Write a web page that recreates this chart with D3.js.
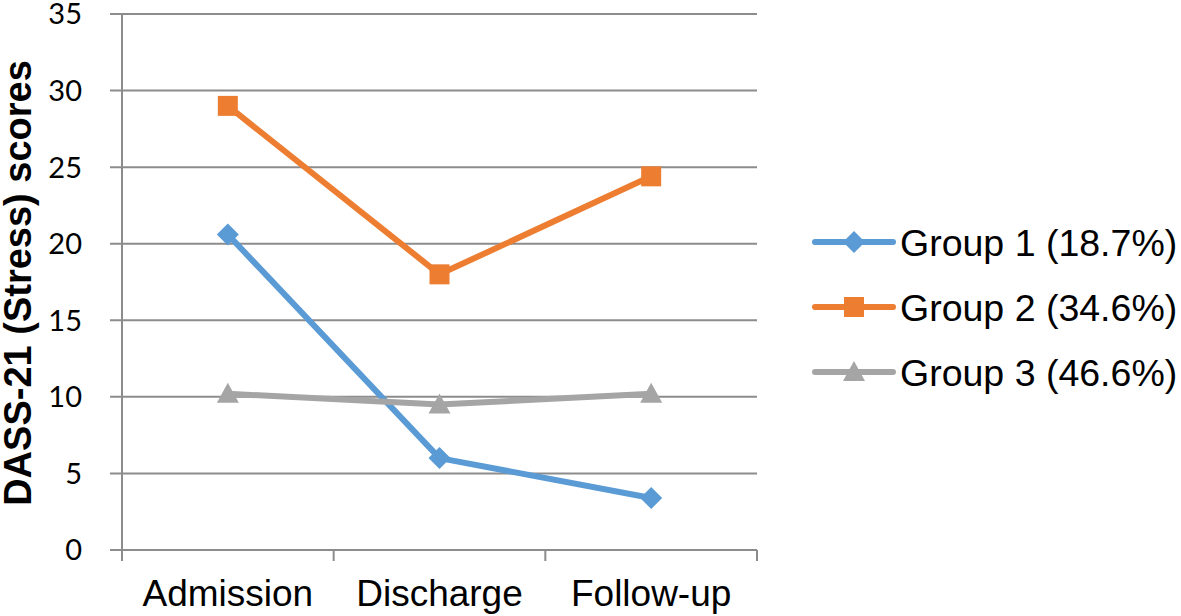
<!DOCTYPE html>
<html>
<head>
<meta charset="utf-8">
<script src="https://cdn.jsdelivr.net/npm/d3@7"></script>
<style>
  html, body { margin: 0; padding: 0; background: #fff; }
  svg { display: block; }
</style>
</head>
<body>
<svg id="chart"></svg>
<script>
// data
const categories = ['Admission', 'Discharge', 'Follow-up'];
const seriesNames = ['Group 1 (18.7%)', 'Group 2 (34.6%)', 'Group 3 (46.6%)'];
const group1 = [20.6, 6.0, 3.4];
const group2 = [29.0, 18.0, 24.4];
const group3 = [10.2, 9.5, 10.2];
const yTicks = [0, 5, 10, 15, 20, 25, 30, 35];

const width = 1181;
const height = 616;
const plotLeft = 122, plotRight = 757, plotTop = 14, plotBottom = 550;

const series = [
  { name: seriesNames[0], values: group1, color: '#5b9bd5', shape: 'diamond' },
  { name: seriesNames[1], values: group2, color: '#ed7d31', shape: 'square' },
  { name: seriesNames[2], values: group3, color: '#a5a5a5', shape: 'triangle' }
];

const svg = d3.select('#chart')
  .attr('width', width)
  .attr('height', height)
  .attr('viewBox', `0 0 ${width} ${height}`);

const x = d3.scaleBand().domain(categories).range([plotLeft, plotRight]).padding(0);
const y = d3.scaleLinear().domain([0, 35]).range([plotBottom, plotTop]);

const gridColor = '#8c8c8c';

// horizontal gridlines (extend left of axis like tick marks)
svg.append('g')
  .selectAll('line')
  .data(yTicks)
  .join('line')
  .attr('x1', plotLeft - 12)
  .attr('x2', plotRight)
  .attr('y1', d => y(d))
  .attr('y2', d => y(d))
  .attr('stroke', gridColor)
  .attr('stroke-width', 2);

// y tick labels
svg.append('g')
  .selectAll('text')
  .data(yTicks)
  .join('text')
  .attr('x', 82)
  .attr('y', d => y(d))
  .attr('dy', '0.36em')
  .attr('text-anchor', 'end')
  .style('font-family', 'Lato, "Open Sans", sans-serif')
  .style('font-size', '29px')
  .style('fill', '#000')
  .text(d => d);

// y axis line
svg.append('line')
  .attr('x1', plotLeft).attr('x2', plotLeft)
  .attr('y1', plotTop).attr('y2', plotBottom + 11)
  .attr('stroke', gridColor)
  .attr('stroke-width', 2);

// x axis tick marks at band edges
const edges = categories.map(c => x(c)).concat([x(categories[categories.length - 1]) + x.bandwidth()]);
svg.append('g')
  .selectAll('line')
  .data(edges)
  .join('line')
  .attr('x1', d => d).attr('x2', d => d)
  .attr('y1', plotBottom).attr('y2', plotBottom + 11)
  .attr('stroke', gridColor)
  .attr('stroke-width', 2);

// category labels
svg.append('g')
  .selectAll('text')
  .data(categories)
  .join('text')
  .attr('x', d => x(d) + x.bandwidth() / 2)
  .attr('y', 606)
  .attr('text-anchor', 'middle')
  .style('font-family', '"Liberation Sans", Arial, sans-serif')
  .style('font-size', '37px')
  .style('fill', '#000')
  .text(d => d);

// y axis title
svg.append('text')
  .attr('transform', 'translate(31,283) rotate(-90)')
  .attr('text-anchor', 'middle')
  .style('font-family', '"Liberation Sans", Arial, sans-serif')
  .style('font-size', '38px')
  .style('font-weight', 'bold')
  .style('fill', '#000')
  .text('DASS-21 (Stress) scores');

function markerPath(shape) {
  if (shape === 'diamond') return 'M0,-11L11,0L0,11L-11,0Z';
  if (shape === 'square') return 'M-10,-10H10V10H-10Z';
  return 'M0,-11L11,9H-11Z';
}

const line = d3.line()
  .x((d, i) => x(categories[i]) + x.bandwidth() / 2)
  .y(d => y(d));

series.forEach(s => {
  const g = svg.append('g');
  g.append('path')
    .attr('d', line(s.values))
    .attr('fill', 'none')
    .attr('stroke', s.color)
    .attr('stroke-width', 6)
    .attr('stroke-linejoin', 'round');
  g.selectAll('path.marker')
    .data(s.values)
    .join('path')
    .attr('class', 'marker')
    .attr('transform', (d, i) => `translate(${x(categories[i]) + x.bandwidth() / 2},${y(d)})`)
    .attr('d', markerPath(s.shape))
    .attr('fill', s.color);
});

// legend
const legend = svg.append('g')
  .selectAll('g')
  .data(series)
  .join('g')
  .attr('transform', (d, i) => `translate(815,${242 + i * 65})`);

legend.append('line')
  .attr('x1', 0).attr('x2', 78)
  .attr('stroke', d => d.color)
  .attr('stroke-width', 6)
  .attr('stroke-linecap', 'round');

legend.append('path')
  .attr('transform', 'translate(39,0)')
  .attr('d', d => markerPath(d.shape))
  .attr('fill', d => d.color);

legend.append('text')
  .attr('x', 85)
  .attr('dy', '0.36em')
  .style('font-family', '"Liberation Sans", Arial, sans-serif')
  .style('font-size', '37.5px')
  .style('fill', '#000')
  .text(d => d.name);
</script>
</body>
</html>
